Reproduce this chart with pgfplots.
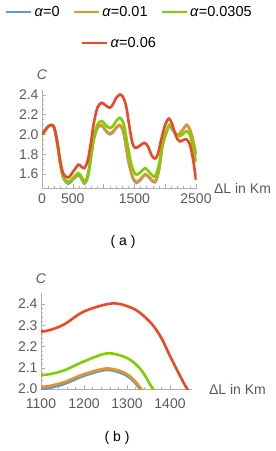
\documentclass[border=0pt]{standalone}
\usepackage{fontspec}
\setmainfont{Liberation Sans}
\usepackage{pgfplots}
\usepackage{pgfplotstable}
\pgfplotsset{compat=1.18}
\definecolor{mblue}{RGB}{99,148,223}
\definecolor{morange}{RGB}{226,150,36}
\definecolor{mgreen}{RGB}{125,208,0}
\definecolor{mred}{RGB}{236,72,40}
\definecolor{tickgray}{RGB}{90,90,90}
\definecolor{axgray}{RGB}{175,175,175}

\pgfplotstableread{
x y
0 2.000
50 2.040
100 2.080
157 2.093
200 2.062
250 1.900
300 1.685
350 1.555
427 1.503
500 1.545
590 1.590
640 1.555
690 1.505
740 1.565
790 1.745
840 1.945
900 2.063
968 2.088
1040 2.032
1100 2.002
1150 2.021
1200 2.062
1255 2.090
1300 2.062
1333 1.992
1370 1.852
1420 1.683
1480 1.553
1536 1.512
1600 1.543
1677 1.595
1740 1.563
1834 1.518
1900 1.643
1960 1.895
2061 2.082
2120 2.045
2180 2.000
2220 1.996
2290 2.050
2348 2.098
2400 2.050
2450 1.945
2500 1.790
}\bluetab

\pgfplotstableread{
x y
0 2.000
50 2.040
100 2.080
157 2.095
200 2.065
250 1.905
300 1.690
350 1.560
427 1.510
500 1.550
590 1.595
640 1.560
690 1.510
740 1.570
790 1.750
840 1.950
900 2.070
968 2.095
1040 2.040
1100 2.011
1150 2.030
1200 2.070
1255 2.097
1300 2.070
1333 2.000
1370 1.860
1420 1.690
1480 1.560
1536 1.520
1600 1.550
1677 1.600
1740 1.570
1834 1.525
1900 1.650
1960 1.900
2061 2.085
2120 2.050
2180 2.005
2220 2.000
2290 2.050
2348 2.095
2400 2.050
2450 1.950
2500 1.800
}\orangetab

\pgfplotstableread{
x y
0 2.000
50 2.040
100 2.080
157 2.095
200 2.065
250 1.910
300 1.700
350 1.570
427 1.520
500 1.560
590 1.610
640 1.575
690 1.525
740 1.580
790 1.760
840 1.970
900 2.100
968 2.136
1040 2.090
1100 2.066
1150 2.085
1200 2.130
1255 2.168
1302 2.144
1333 2.089
1360 2.000
1400 1.860
1450 1.700
1500 1.615
1536 1.593
1600 1.620
1677 1.660
1740 1.620
1834 1.576
1900 1.700
1960 1.930
2061 2.095
2120 2.060
2180 2.000
2240 1.983
2300 2.010
2348 2.034
2400 2.000
2450 1.880
2500 1.720
}\greentab

\pgfplotstableread{
x y
0 2.000
50 2.040
100 2.080
157 2.095
200 2.070
250 1.920
300 1.720
350 1.600
427 1.566
500 1.620
590 1.695
640 1.675
687 1.660
740 1.730
790 1.900
840 2.110
900 2.270
968 2.320
1040 2.290
1100 2.270
1150 2.300
1200 2.365
1267 2.403
1318 2.375
1356 2.310
1380 2.240
1400 2.155
1420 2.075
1440 2.000
1470 1.910
1509 1.865
1560 1.875
1661 1.915
1720 1.880
1780 1.790
1834 1.756
1880 1.800
1940 1.960
2000 2.100
2061 2.160
2110 2.110
2160 2.010
2200 1.950
2240 1.930
2300 1.945
2348 1.950
2400 1.900
2450 1.760
2500 1.540
}\redtab

\pgfplotsset{
  mystyle/.style={
    scale only axis,
    axis lines=left,
    axis line style={-, draw=axgray, line width=0.6bp},
    tick align=inside,
    major tick length=4bp,
    minor tick length=2.2bp,
    tick style={draw=axgray, line width=0.5bp},
    every tick label/.append style={font=\fontsize{14bp}{16bp}\selectfont, text=tickgray},
    /pgf/number format/assume math mode=true,
    /pgf/number format/1000 sep={},
    yticklabel style={/pgf/number format/fixed, /pgf/number format/fixed zerofill, /pgf/number format/precision=1},
    xlabel={ΔL in Km},
    ylabel={\textit{C}},
    xlabel style={at={(axis description cs:1,0)}, anchor=west, xshift=14bp, font=\fontsize{14bp}{16bp}\selectfont, text=tickgray},
    ylabel style={at={(axis description cs:0,1)}, anchor=base, rotate=-90, yshift=10bp, font=\fontsize{14bp}{16bp}\selectfont, text=tickgray},
    legend style={draw=none, fill=none, inner sep=0pt, outer sep=0pt, font=\fontsize{14.5bp}{16bp}\selectfont, legend cell align=left, /tikz/every even column/.append style={column sep=11bp}},
    legend image code/.code={\draw[#1] (0bp,0bp) -- (25bp,0bp);},
    every axis plot/.append style={line width=2.6bp, smooth, no markers},
  }
}

\begin{document}
\begin{tikzpicture}
\path[use as bounding box] (0,0) rectangle (276bp,-451bp);

\begin{axis}[mystyle,
  at={(42bp,-188bp)}, anchor=south west,
  width=154.6bp, height=98.15bp,
  xmin=0, xmax=2510, ymin=1.46, ymax=2.45,
  xtick={0,500,1000,1500,2000,2500},
  xticklabels={0,500,,1500,,2500},
  xticklabel style={yshift=-2bp},
  minor x tick num=4,
  ytick={1.6,1.8,2.0,2.2,2.4},
  minor y tick num=3,
  legend columns=3,
  legend style={at={(axis description cs:-0.2393,1.7932)}, anchor=west},
]
\addplot[mblue] table[x=x,y=y] {\bluetab};
\addlegendentry{\textit{α}=0}
\addplot[morange] table[x=x,y=y] {\orangetab};
\addlegendentry{\textit{α}=0.01}
\addplot[mgreen] table[x=x,y=y] {\greentab};
\addlegendentry{\textit{α}=0.0305}
\addplot[mred, forget plot] table[x=x,y=y] {\redtab};
\end{axis}

\begin{axis}[mystyle,
  at={(41bp,-389bp)}, anchor=south west,
  width=150.5bp, height=95.6bp,
  xmin=1100, xmax=1450, ymin=2.0, ymax=2.45,
  xtick={1100,1200,1300,1400},
  xticklabel style={yshift=-6bp},
  minor x tick num=4,
  ytick={2.0,2.1,2.2,2.3,2.4},
  minor y tick num=4,
  legend style={at={(axis description cs:0.2658,3.6192)}, anchor=west},
]
\addplot[mblue, forget plot] table[x=x,y=y] {\bluetab};
\addplot[morange, forget plot] table[x=x,y=y] {\orangetab};
\addplot[mgreen, forget plot] table[x=x,y=y] {\greentab};
\addplot[mred] table[x=x,y=y] {\redtab};
\addlegendentry{\textit{α}=0.06}
\end{axis}

\node[font=\fontsize{14bp}{16bp}\selectfont] at (123bp,-242bp) {( a )};
\node[font=\fontsize{14bp}{16bp}\selectfont] at (117bp,-438bp) {( b )};
\end{tikzpicture}
\end{document}
